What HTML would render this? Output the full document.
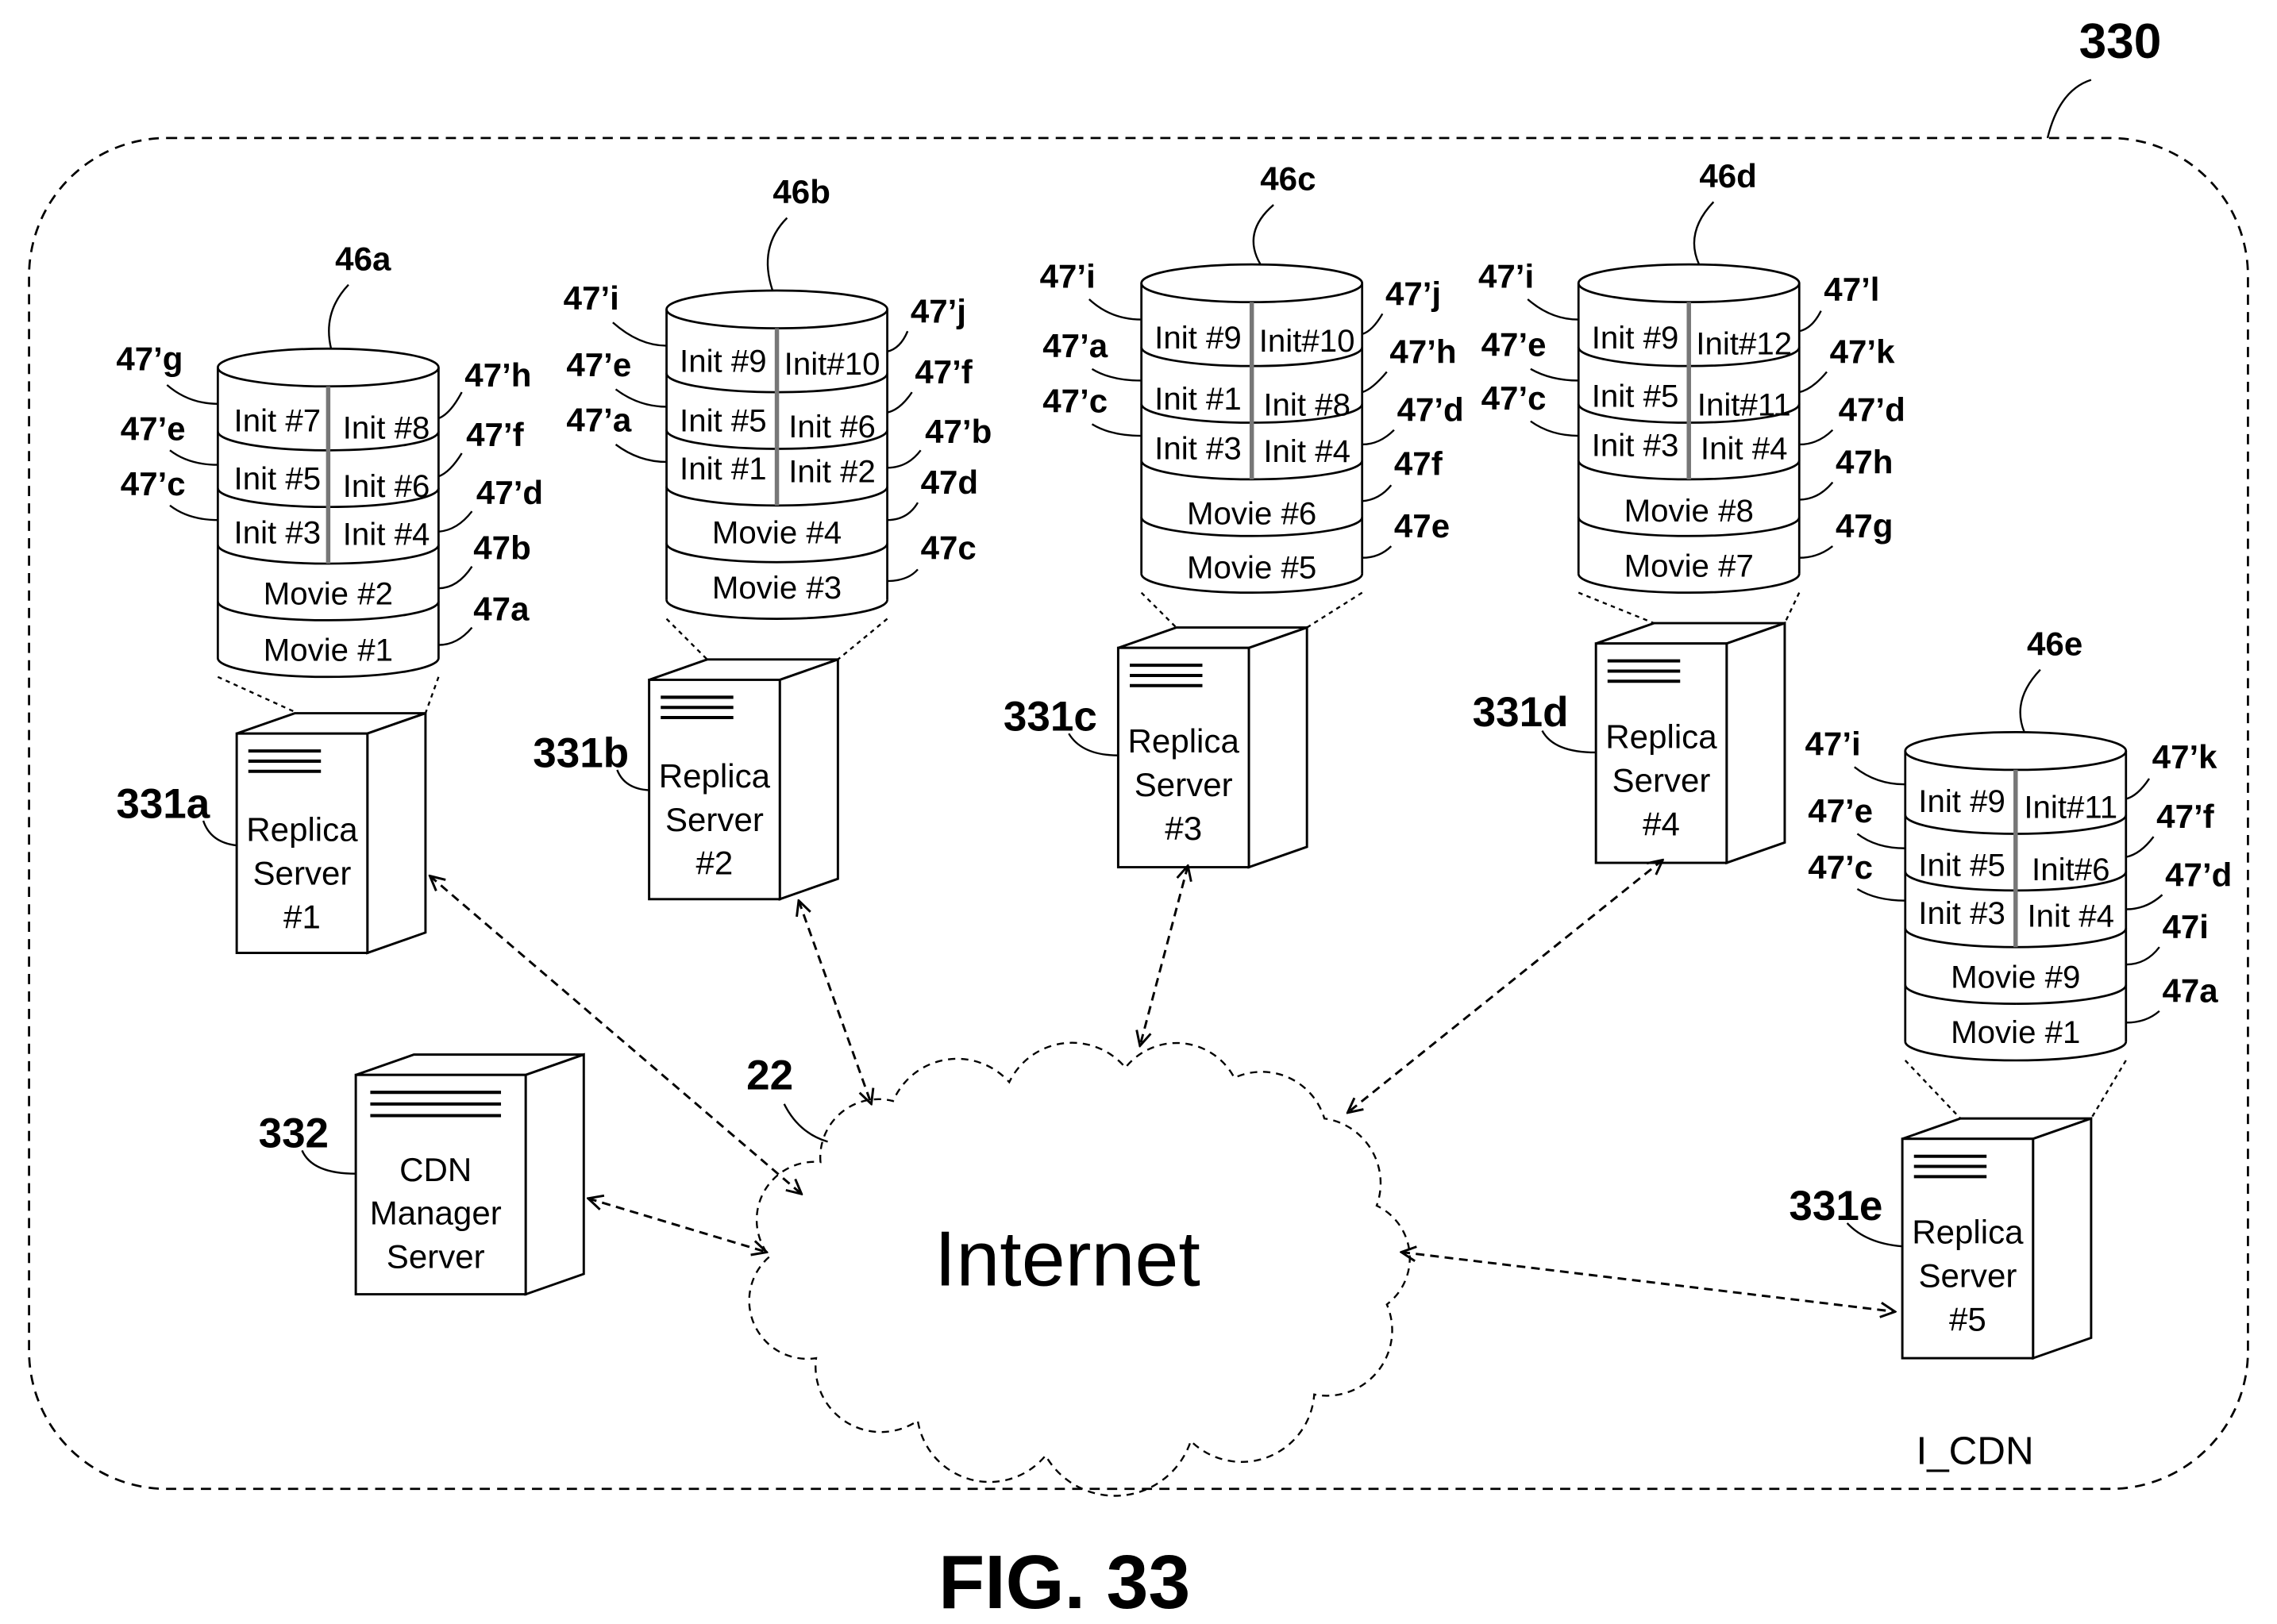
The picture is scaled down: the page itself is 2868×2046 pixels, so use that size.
<!DOCTYPE html>
<html><head><meta charset="utf-8"><style>
html,body{margin:0;padding:0;background:#fff;}
svg{display:block;}
text{font-family:"Liberation Sans",sans-serif;fill:#000;}
.b{font-weight:bold;font-size:23px;}
.c{font-size:22px;text-anchor:middle;}
.s{font-size:23px;text-anchor:middle;}
.ln{fill:none;stroke:#000;stroke-width:1.3;}
</style></head><body>
<svg width="2868" height="2046" viewBox="0 0 1568 1118" preserveAspectRatio="none" xmlns="http://www.w3.org/2000/svg">
<defs>
<marker id="ah" viewBox="0 0 12 12" refX="11" refY="6" markerWidth="12" markerHeight="12" markerUnits="userSpaceOnUse" orient="auto-start-reverse">
<path d="M1,1 L11,6 L1,11" fill="none" stroke="#000" stroke-width="1.6"/>
</marker>
<g id="cyl" fill="none" stroke="#000" stroke-width="1.5">
<ellipse cx="0" cy="0" rx="76" ry="13" fill="#fff"/>
<path d="M-76,0 L-76,200 M76,0 L76,200"/>
<path d="M-76,44 A76 13 0 0 0 76,44 M-76,83 A76 13 0 0 0 76,83 M-76,122 A76 13 0 0 0 76,122 M-76,161 A76 13 0 0 0 76,161 M-76,200 A76 13 0 0 0 76,200"/>
<path d="M0,13 L0,135" stroke="#777" stroke-width="3"/>
</g>
<g id="srv" fill="#fff" stroke="#000" stroke-width="1.6">
<path d="M0,0 L40,-14 L130,-14 L90,0 Z"/>
<path d="M90,0 L130,-14 L130,137 L90,151 Z"/>
<rect x="0" y="0" width="90" height="151"/>
<path d="M8,12 H58 M8,19 H58 M8,26 H58" stroke-width="2.2"/>
</g>
<g id="srvbig" fill="#fff" stroke="#000" stroke-width="1.6">
<path d="M0,0 L40,-14 L157,-14 L117,0 Z"/>
<path d="M117,0 L157,-14 L157,137 L117,151 Z"/>
<rect x="0" y="0" width="117" height="151"/>
<path d="M10,12 H100 M10,20 H100 M10,28 H100" stroke-width="2.2"/>
</g>
</defs>

<!-- outer boundary -->
<rect x="20" y="95" width="1528" height="930" rx="95" ry="95" fill="none" stroke="#000" stroke-width="1.5" stroke-dasharray="7,5"/>
<text x="1460" y="40" class="b" style="font-size:34px" text-anchor="middle">330</text>
<path class="ln" d="M1410,95 Q1418,62 1440,55"/>
<text x="1360" y="1008" style="font-size:27px" text-anchor="middle">I_CDN</text>
<text x="733" y="1107" style="font-size:52px;font-weight:bold" text-anchor="middle">FIG. 33</text>

<!-- funnels -->
<g stroke="#000" stroke-width="1.3" stroke-dasharray="3,3" fill="none">
<path d="M150,466 L205,491 M302,466 L293,491"/>
<path d="M459,426 L487,454 M611,426 L577,454"/>
<path d="M786,408 L810,432 M938,408 L900,432"/>
<path d="M1087,408 L1139,429 M1239,408 L1229,429"/>
<path d="M1312,730 L1350,770 M1464,730 L1440,770"/>
</g>

<!-- cylinders -->
<use href="#cyl" transform="translate(226,253)"/>
<use href="#cyl" transform="translate(535,213)"/>
<use href="#cyl" transform="translate(862,195)"/>
<use href="#cyl" transform="translate(1163,195)"/>
<use href="#cyl" transform="translate(1388,517)"/>

<!-- 46a -->
<g class="c">
<text x="191" y="297">Init #7</text><text x="266" y="302">Init #8</text>
<text x="191" y="337">Init #5</text><text x="266" y="342">Init #6</text>
<text x="191" y="374">Init #3</text><text x="266" y="375">Init #4</text>
<text x="226" y="416">Movie #2</text><text x="226" y="455">Movie #1</text>
</g>
<text x="250" y="186" class="b" text-anchor="middle">46a</text>
<path class="ln" d="M240,196 Q222,215 228,240"/>
<text x="80" y="255" class="b">47’g</text><text x="83" y="303" class="b">47’e</text><text x="83" y="341" class="b">47’c</text>
<text x="320" y="266" class="b">47’h</text><text x="321" y="307" class="b">47’f</text><text x="328" y="347" class="b">47’d</text><text x="326" y="385" class="b">47b</text><text x="326" y="427" class="b">47a</text>
<path class="ln" d="M115,265 Q130,278 150,278 M117,310 Q130,320 150,320 M117,348 Q130,358 150,358 M318,270 Q310,285 302,288 M318,312 Q310,325 302,328 M325,352 Q315,365 302,366 M325,390 Q315,405 302,405 M325,432 Q315,444 302,444"/>

<!-- 46b -->
<g class="c">
<text x="498" y="256">Init #9</text><text x="573" y="258">Init#10</text>
<text x="498" y="297">Init #5</text><text x="573" y="301">Init #6</text>
<text x="498" y="330">Init #1</text><text x="573" y="332">Init #2</text>
<text x="535" y="374">Movie #4</text><text x="535" y="412">Movie #3</text>
</g>
<text x="552" y="140" class="b" text-anchor="middle">46b</text>
<path class="ln" d="M542,150 Q522,170 532,200"/>
<text x="388" y="213" class="b">47’i</text><text x="390" y="259" class="b">47’e</text><text x="390" y="297" class="b">47’a</text>
<text x="627" y="222" class="b">47’j</text><text x="630" y="264" class="b">47’f</text><text x="637" y="305" class="b">47’b</text><text x="634" y="340" class="b">47d</text><text x="634" y="385" class="b">47c</text>
<path class="ln" d="M422,222 Q440,238 459,238 M424,268 Q440,280 459,280 M424,306 Q440,318 459,318 M625,228 Q620,240 611,242 M628,270 Q620,282 611,284 M634,310 Q625,322 611,322 M632,346 Q625,358 611,358 M632,392 Q625,400 611,400"/>

<!-- 46c -->
<g class="c">
<text x="825" y="240">Init #9</text><text x="900" y="242">Init#10</text>
<text x="825" y="282">Init #1</text><text x="900" y="286">Init #8</text>
<text x="825" y="316">Init #3</text><text x="900" y="318">Init #4</text>
<text x="862" y="361">Movie #6</text><text x="862" y="398">Movie #5</text>
</g>
<text x="887" y="131" class="b" text-anchor="middle">46c</text>
<path class="ln" d="M877,141 Q855,160 868,182"/>
<text x="716" y="198" class="b">47’i</text><text x="718" y="246" class="b">47’a</text><text x="718" y="284" class="b">47’c</text>
<text x="954" y="210" class="b">47’j</text><text x="957" y="250" class="b">47’h</text><text x="962" y="290" class="b">47’d</text><text x="960" y="327" class="b">47f</text><text x="960" y="370" class="b">47e</text>
<path class="ln" d="M750,206 Q765,220 786,220 M752,254 Q765,262 786,262 M752,292 Q765,300 786,300 M952,216 Q945,228 938,230 M955,256 Q945,268 938,270 M960,296 Q950,306 938,306 M958,334 Q950,344 938,345 M958,376 Q950,384 938,384"/>

<!-- 46d -->
<g class="c">
<text x="1126" y="240">Init #9</text><text x="1201" y="244">Init#12</text>
<text x="1126" y="280">Init #5</text><text x="1201" y="286">Init#11</text>
<text x="1126" y="314">Init #3</text><text x="1201" y="316">Init #4</text>
<text x="1163" y="359">Movie #8</text><text x="1163" y="397">Movie #7</text>
</g>
<text x="1190" y="129" class="b" text-anchor="middle">46d</text>
<path class="ln" d="M1180,139 Q1160,160 1170,182"/>
<text x="1018" y="198" class="b">47’i</text><text x="1020" y="245" class="b">47’e</text><text x="1020" y="282" class="b">47’c</text>
<text x="1256" y="207" class="b">47’l</text><text x="1260" y="250" class="b">47’k</text><text x="1266" y="290" class="b">47’d</text><text x="1264" y="326" class="b">47h</text><text x="1264" y="370" class="b">47g</text>
<path class="ln" d="M1052,206 Q1068,220 1087,220 M1054,254 Q1068,262 1087,262 M1054,290 Q1068,300 1087,300 M1254,214 Q1248,226 1239,228 M1258,256 Q1248,268 1239,270 M1262,296 Q1252,306 1239,306 M1262,332 Q1252,344 1239,344 M1262,376 Q1252,384 1239,384"/>

<!-- 46e -->
<g class="c">
<text x="1351" y="559">Init #9</text><text x="1426" y="563">Init#11</text>
<text x="1351" y="603">Init #5</text><text x="1426" y="606">Init#6</text>
<text x="1351" y="636">Init #3</text><text x="1426" y="638">Init #4</text>
<text x="1388" y="680">Movie #9</text><text x="1388" y="718">Movie #1</text>
</g>
<text x="1415" y="451" class="b" text-anchor="middle">46e</text>
<path class="ln" d="M1405,461 Q1385,482 1394,504"/>
<text x="1243" y="520" class="b">47’i</text><text x="1245" y="566" class="b">47’e</text><text x="1245" y="605" class="b">47’c</text>
<text x="1482" y="529" class="b">47’k</text><text x="1485" y="570" class="b">47’f</text><text x="1491" y="610" class="b">47’d</text><text x="1489" y="646" class="b">47i</text><text x="1489" y="690" class="b">47a</text>
<path class="ln" d="M1277,528 Q1292,540 1312,540 M1279,574 Q1292,584 1312,584 M1279,612 Q1292,620 1312,620 M1480,536 Q1472,548 1464,550 M1483,576 Q1474,588 1464,590 M1489,616 Q1478,626 1464,626 M1487,652 Q1478,664 1464,664 M1487,696 Q1478,704 1464,704"/>

<!-- servers -->
<use href="#srv" transform="translate(163,505)"/>
<use href="#srv" transform="translate(447,468)"/>
<use href="#srv" transform="translate(770,446)"/>
<use href="#srv" transform="translate(1099,443)"/>
<use href="#srv" transform="translate(1310,784)"/>
<use href="#srvbig" transform="translate(245,740)"/>
<g class="s">
<text x="208" y="579">Replica</text><text x="208" y="609">Server</text><text x="208" y="639">#1</text>
<text x="492" y="542">Replica</text><text x="492" y="572">Server</text><text x="492" y="602">#2</text>
<text x="815" y="518">Replica</text><text x="815" y="548">Server</text><text x="815" y="578">#3</text>
<text x="1144" y="515">Replica</text><text x="1144" y="545">Server</text><text x="1144" y="575">#4</text>
<text x="1355" y="856">Replica</text><text x="1355" y="886">Server</text><text x="1355" y="916">#5</text>
<text x="300" y="813">CDN</text><text x="300" y="843">Manager</text><text x="300" y="873">Server</text>
</g>
<g class="b" style="font-size:29px">
<text x="80" y="563">331a</text><text x="367" y="528">331b</text><text x="691" y="503">331c</text><text x="1014" y="500">331d</text><text x="1232" y="840">331e</text><text x="178" y="790">332</text><text x="514" y="750">22</text>
</g>
<path class="ln" d="M140,565 Q145,580 163,582 M425,530 Q430,543 447,544 M736,505 Q745,520 770,520 M1062,503 Q1070,518 1099,518 M1272,842 Q1285,856 1310,858 M208,792 Q215,808 245,808 M540,760 Q550,780 570,786"/>

<!-- cloud -->
<path d="M565,800 A40 40 0 0 1 615,758 A48 48 0 0 1 695,745 A48 48 0 0 1 775,735 A45 45 0 0 1 850,742 A45 45 0 0 1 912,770 A45 45 0 0 1 948,830 A40 40 0 0 1 955,898 A45 45 0 0 1 905,960 A50 50 0 0 1 820,992 A55 55 0 0 1 720,1002 A50 50 0 0 1 632,978 A45 45 0 0 1 562,935 A40 40 0 0 1 530,865 A40 40 0 0 1 565,800 Z" fill="none" stroke="#000" stroke-width="1.3" stroke-dasharray="5,4"/>
<text x="735" y="885" style="font-size:54px" text-anchor="middle">Internet</text>

<!-- arrows -->
<g stroke="#000" stroke-width="1.6" stroke-dasharray="6,4" fill="none" marker-start="url(#ah)" marker-end="url(#ah)">
<path d="M296,603 L552,822"/>
<path d="M550,620 L600,760"/>
<path d="M818,596 L785,720"/>
<path d="M1145,592 L928,766"/>
<path d="M405,825 L528,862"/>
<path d="M965,862 L1305,903"/>
</g>
</svg>
</body></html>
